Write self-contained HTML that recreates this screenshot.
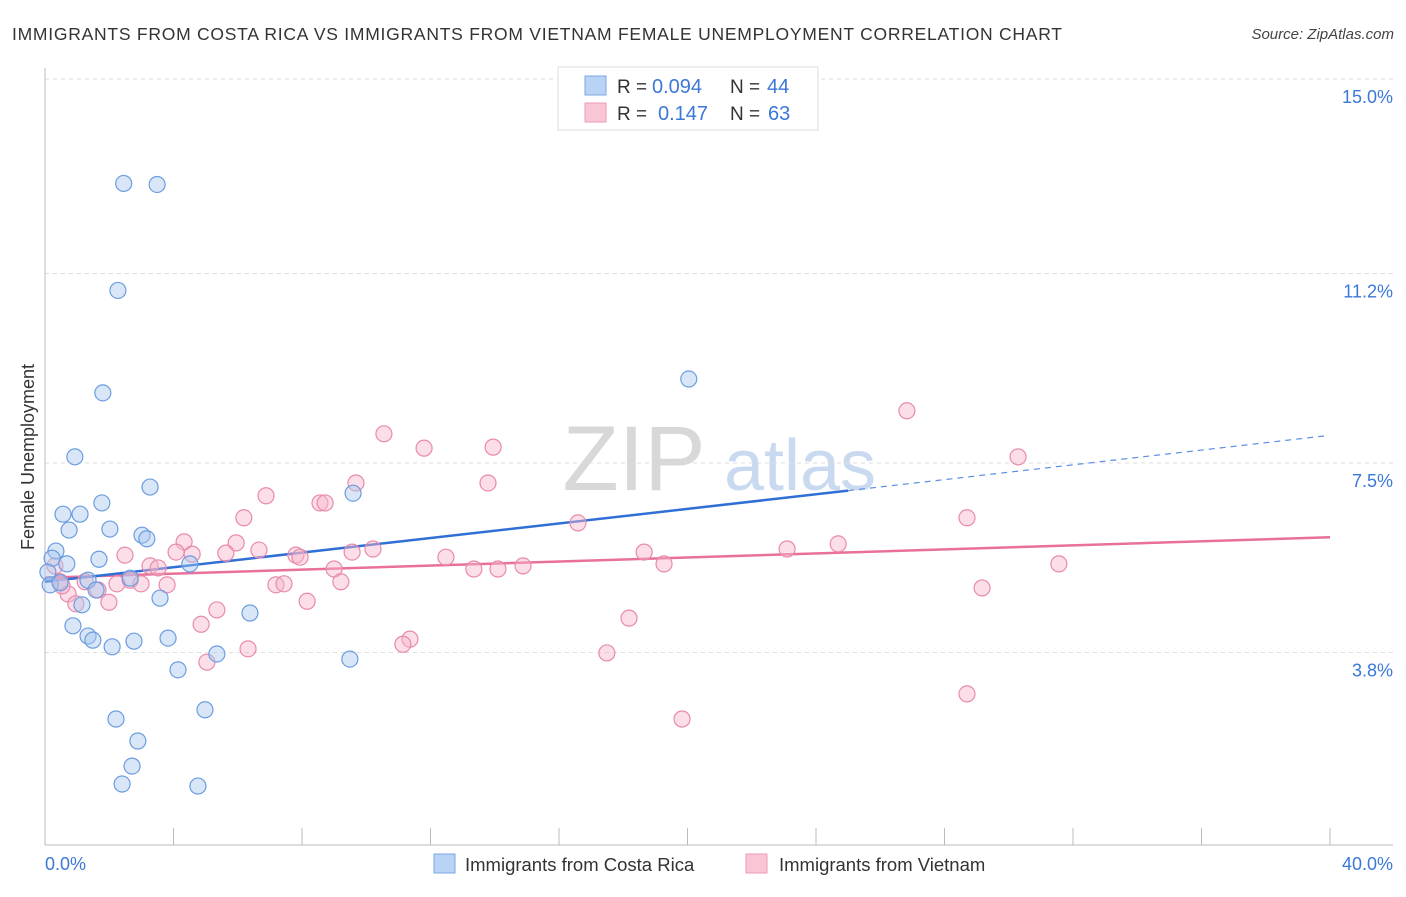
<!DOCTYPE html>
<html><head><meta charset="utf-8"><style>
body{margin:0;background:#fff;font-family:"Liberation Sans",sans-serif;}
svg text{font-family:"Liberation Sans",sans-serif;}
</style></head><body>
<svg id="chart" width="1406" height="892" xmlns="http://www.w3.org/2000/svg">
<text x="12" y="40" font-size="17.5" fill="#333" textLength="1050" lengthAdjust="spacing">IMMIGRANTS FROM COSTA RICA VS IMMIGRANTS FROM VIETNAM FEMALE UNEMPLOYMENT CORRELATION CHART</text>
<text x="1394" y="39" font-size="15" fill="#444" font-style="italic" text-anchor="end">Source: ZipAtlas.com</text>
<text x="634" y="490" font-size="92" fill="#d8d8d8" font-family="Liberation Serif" text-anchor="middle">ZIP</text>
<text x="800" y="490" font-size="72" fill="#c9daf0" text-anchor="middle">atlas</text>
<text transform="translate(34,457) rotate(-90)" font-size="18" fill="#333" text-anchor="middle">Female Unemployment</text>
<g id="grid"></g><g id="axes"></g><g id="lines"></g><g id="pts"></g>
<g>
<rect x="558" y="67" width="260" height="63" fill="#fff" stroke="#ddd"/>
<rect x="585" y="76" width="21" height="19" fill="#b9d3f5" stroke="#7aa7e6"/>
<rect x="585" y="103" width="21" height="19" fill="#f9c6d6" stroke="#ee9ab6"/>
<text x="617" y="93" font-size="19" fill="#333">R =</text>
<text x="652" y="93" font-size="20" fill="#3b78d8">0.094</text>
<text x="730" y="93" font-size="19" fill="#333">N =</text>
<text x="767" y="93" font-size="20" fill="#3b78d8">44</text>
<text x="617" y="120" font-size="19" fill="#333">R =</text>
<text x="658" y="120" font-size="20" fill="#3b78d8">0.147</text>
<text x="730" y="120" font-size="19" fill="#333">N =</text>
<text x="768" y="120" font-size="20" fill="#3b78d8">63</text>
</g>
<g>
<rect x="434" y="854" width="21" height="19" fill="#b9d3f5" stroke="#7aa7e6"/>
<text x="465" y="871" font-size="18.5" fill="#333">Immigrants from Costa Rica</text>
<rect x="746" y="854" width="21" height="19" fill="#f9c6d6" stroke="#ee9ab6"/>
<text x="779" y="871" font-size="18.5" fill="#333">Immigrants from Vietnam</text>
</g>
</svg>
<script>
const yTicks=[3.8,7.5,11.2,15.0];
const yTickLabels=["3.8%","7.5%","11.2%","15.0%"];
const xTickLabels=["0.0%","40.0%"];
const blueX=[2.45,3.49,2.27,1.80,20.04,0.93,3.27,9.59,1.77,0.56,1.09,0.75,2.02,3.02,3.17,0.34,0.22,0.68,1.68,4.51,0.09,0.16,0.47,1.34,2.65,1.59,3.58,1.15,6.38,0.87,1.34,1.49,2.09,2.77,3.83,5.35,9.49,4.14,4.98,2.21,2.89,2.71,2.40,4.76];
const blueY=[12.96,12.94,10.87,8.87,9.14,7.62,7.03,6.91,6.72,6.50,6.50,6.19,6.21,6.09,6.02,5.78,5.64,5.53,5.62,5.53,5.37,5.12,5.16,5.21,5.25,5.02,4.86,4.73,4.57,4.32,4.12,4.04,3.91,4.02,4.08,3.77,3.67,3.46,2.68,2.50,2.07,1.58,1.23,1.19];
const pinkX=[26.83,30.29,10.55,11.80,13.95,13.79,9.68,6.88,8.56,8.72,6.19,28.70,16.59,4.33,5.95,4.08,4.58,5.63,6.66,2.49,7.81,7.94,9.56,10.21,12.48,18.65,23.10,24.69,31.56,19.27,14.88,13.35,14.10,3.27,3.52,9.00,2.65,2.24,1.25,0.47,3.80,2.99,7.19,7.44,9.21,1.65,0.72,29.17,0.96,1.99,8.16,5.35,4.86,18.18,11.36,11.14,6.32,17.49,5.04,28.70,19.83,0.31,0.53];
const pinkY=[8.52,7.62,8.07,7.79,7.81,7.11,7.11,6.86,6.72,6.72,6.43,6.43,6.33,5.96,5.94,5.76,5.72,5.74,5.80,5.70,5.70,5.66,5.76,5.82,5.66,5.76,5.82,5.92,5.53,5.53,5.49,5.43,5.43,5.49,5.45,5.43,5.21,5.14,5.18,5.18,5.12,5.14,5.12,5.14,5.18,5.02,4.94,5.06,4.75,4.78,4.80,4.63,4.35,4.47,4.06,3.96,3.87,3.79,3.61,2.99,2.50,5.49,5.10];
const blueLine=[[0,5.18],[25,6.96]], blueDash=[[25,6.96],[39.85,8.03]];
const pinkLine=[[0,5.26],[40,6.05]];
const NS="http://www.w3.org/2000/svg";
const X=v=>45+v*32.125, Y=v=>847-v*51.2;
function mk(tag,attrs,parent){const e=document.createElementNS(NS,tag);for(const k in attrs)e.setAttribute(k,attrs[k]);document.getElementById(parent).appendChild(e);return e;}
yTicks.forEach((t,i)=>{
 const l=mk('line',{x1:45,x2:1393,y1:Y(t),y2:Y(t),stroke:'#ddd','stroke-dasharray':'4,4'},'grid');
 
 
 const tx=mk('text',{x:1393,y:Y(t)+24,'font-size':18,fill:'#3b78d8','text-anchor':'end'},'axes');tx.textContent=yTickLabels[i];
 
 
});
const ax=mk('line',{x1:45,x2:1393,y1:845,y2:845,stroke:'#bbb'},'axes');


const ay=mk('line',{x1:45,x2:45,y1:68,y2:845,stroke:'#bbb'},'axes');


for(let i=0;i<=10;i++){const t=mk('line',{x1:X(i*4),x2:X(i*4),y1:828,y2:845,stroke:'#bbb'},'axes');
 
 }
const xl0=mk('text',{x:45,y:870,'font-size':18,fill:'#3b78d8'},'axes');xl0.textContent=xTickLabels[0];


const xl1=mk('text',{x:1393,y:870,'font-size':18,fill:'#3b78d8','text-anchor':'end'},'axes');xl1.textContent=xTickLabels[1];


function dots(xs,ys,fill,stroke,name){xs.forEach((x,i)=>{const c=mk('circle',{cx:X(x),cy:Y(ys[i]),r:8,fill:fill,'fill-opacity':0.45,stroke:stroke,'stroke-width':1.2},'pts');
 
 });}
dots(pinkX,pinkY,'#f7b6cb','#e98aaa','vietnam-point');
dots(blueX,blueY,'#a9c8f0','#6b9de0','costa-rica-point');
const pl=mk('line',{x1:X(pinkLine[0][0]),y1:Y(pinkLine[0][1]),x2:X(pinkLine[1][0]),y2:Y(pinkLine[1][1]),stroke:'#e8709a','stroke-width':2.5},'lines');


const bl=mk('line',{x1:X(blueLine[0][0]),y1:Y(blueLine[0][1]),x2:X(blueLine[1][0]),y2:Y(blueLine[1][1]),stroke:'#2f6fd6','stroke-width':2.5},'lines');


const bd=mk('line',{x1:X(blueDash[0][0]),y1:Y(blueDash[0][1]),x2:X(blueDash[1][0]),y2:Y(blueDash[1][1]),stroke:'#5b8fe0','stroke-width':1.2,'stroke-dasharray':'6,5'},'lines');


</script>
</body></html>
